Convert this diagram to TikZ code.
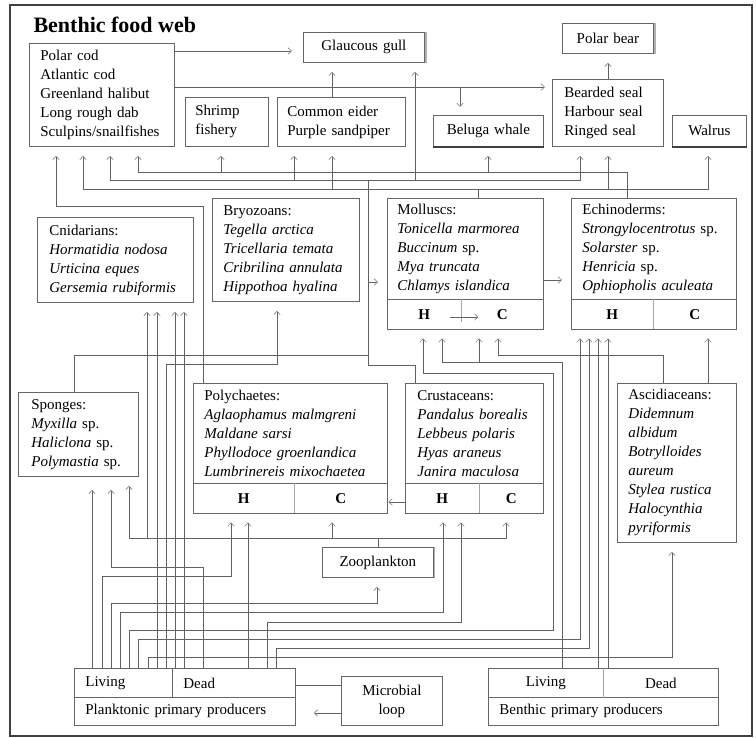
\documentclass[tikz,border=0pt]{standalone}
\usepackage{fontspec}
\setmainfont{Liberation Serif}
\usetikzlibrary{arrows.meta}
\begin{document}
\begin{tikzpicture}[x=1pt,y=-1pt,
  txt/.style={font=\fontsize{15pt}{19pt}\selectfont},
  box/.style={draw=black!60, line width=0.8pt, anchor=north west, inner ysep=0pt, align=left, txt},
  cbox/.style={box, align=center, inner xsep=3pt},
  hc/.style={anchor=north west, inner ysep=0pt, inner xsep=3pt, align=center, font=\fontsize{15pt}{19pt}\selectfont\bfseries},
  edge/.style={draw=black!60, line width=0.8pt},
  divl/.style={draw=black!35, line width=0.8pt},
  ln/.style={draw=black!62, line width=0.6pt},
  arr/.style={ln, -{Straight Barb[length=3.5pt,width=6.5pt,color=black!50]}, shorten >=9pt}
]
\useasboundingbox (0,0) rectangle (756,738);
\draw[black!75, line width=1.2pt] (10,5) rectangle (752,736);

\node[anchor=base west, font=\fontsize{22pt}{26pt}\selectfont\bfseries] (title) at (30,33) {Benthic food web};

% ---------- top row
\node[box, inner xsep=11pt, text width=123pt, minimum height=103pt] (fish) at (29,43)
  {Polar cod\\Atlantic cod\\Greenland halibut\\Long rough dab\\Sculpins/snailfishes};
\node[cbox, text width=115pt, minimum height=30pt] (gull) at (303,32) {Glaucous gull};
\node[box, inner xsep=10pt, text width=63pt, minimum height=49pt] (shrimp) at (185,97) {Shrimp\\fishery};
\node[box, inner xsep=10pt, text width=108pt, minimum height=49pt] (eider) at (277,97) {Common eider\\Purple sandpiper};
\node[cbox, text width=85pt, minimum height=30pt] (bear) at (562,23) {Polar bear};
\node[box, inner xsep=12pt, text width=87pt, minimum height=67pt] (seal) at (552,79) {Bearded seal\\Harbour seal\\Ringed seal};
\node[cbox, text width=104pt, minimum height=31pt] (beluga) at (433,115) {Beluga whale};
\node[cbox, text width=68pt, minimum height=31pt] (walrus) at (672,115) {Walrus};
\draw[black!75, line width=1.6pt] (beluga.south west) -- (beluga.south east);
\draw[black!75, line width=1.6pt] (walrus.south west) -- (walrus.south east);
\draw[black!30, line width=1.4pt] ([xshift=1pt]gull.north east) -- ([xshift=1pt]gull.south east);
\draw[black!30, line width=1.4pt] ([xshift=1pt]bear.north east) -- ([xshift=1pt]bear.south east);

% ---------- middle row
\node[box, inner xsep=12pt, text width=132pt, minimum height=85pt] (cnid) at (37,217)
  {Cnidarians:\\\textit{Hormatidia nodosa}\\\textit{Urticina eques}\\\textit{Gersemia rubiformis}};
\node[box, inner xsep=11pt, text width=125pt, minimum height=103pt] (bryo) at (212,198)
  {Bryozoans:\\\textit{Tegella arctica}\\\textit{Tricellaria temata}\\\textit{Cribrilina annulata}\\\textit{Hippothoa hyalina}};
\node[box, inner xsep=10pt, text width=136pt, minimum height=101pt] (moll) at (387,198)
  {Molluscs:\\\textit{Tonicella marmorea}\\\textit{Buccinum} sp.\\\textit{Mya truncata}\\\textit{Chlamys islandica}};
\node[hc, text width=68pt, minimum height=30pt] (mollH) at (387,299) {H};
\node[hc, text width=76pt, minimum height=30pt] (mollC) at (461,299) {C};
\draw[edge] (mollH.north west) -- (mollH.south west) -- (mollC.south east) -- (mollC.north east);
\draw[divl] (mollH.north east) -- ([yshift=-8pt]mollH.east);
\node[box, inner xsep=11pt, text width=143pt, minimum height=101pt] (echi) at (571,198)
  {Echinoderms:\\\textit{Strongylocentrotus} sp.\\\textit{Solarster} sp.\\\textit{Henricia} sp.\\\textit{Ophiopholis aculeata}};
\node[hc, text width=76pt, minimum height=30pt] (echiH) at (571,299) {H};
\node[hc, text width=77pt, minimum height=30pt] (echiC) at (653,299) {C};
\draw[edge] (echiH.north west) -- (echiH.south west) -- (echiC.south east) -- (echiC.north east);
\draw[divl] (echiH.north east) -- (echiH.south east);

% ---------- lower row
\node[box, inner xsep=13pt, text width=94pt, minimum height=84pt] (spong) at (18,392)
  {Sponges:\\\textit{Myxilla} sp.\\\textit{Haliclona} sp.\\\textit{Polymastia} sp.};
\node[box, inner xsep=11pt, text width=172pt, minimum height=100pt] (poly) at (193,383)
  {Polychaetes:\\\textit{Aglaophamus malmgreni}\\\textit{Maldane sarsi}\\\textit{Phyllodoce groenlandica}\\\textit{Lumbrinereis mixochaetea}};
\node[hc, text width=95pt, minimum height=30pt] (polyH) at (193,483) {H};
\node[hc, text width=87pt, minimum height=30pt] (polyC) at (294,483) {C};
\draw[edge] (polyH.north west) -- (polyH.south west) -- (polyC.south east) -- (polyC.north east);
\draw[divl] (polyH.north east) -- (polyH.south east);
\node[box, inner xsep=12pt, text width=114pt, minimum height=100pt] (cru) at (405,383)
  {Crustaceans:\\\textit{Pandalus borealis}\\\textit{Lebbeus polaris}\\\textit{Hyas araneus}\\\textit{Janira maculosa}};
\node[hc, text width=68pt, minimum height=30pt] (cruH) at (405,483) {H};
\node[hc, text width=58pt, minimum height=30pt] (cruC) at (479,483) {C};
\draw[edge] (cruH.north west) -- (cruH.south west) -- (cruC.south east) -- (cruC.north east);
\draw[divl] (cruH.north east) -- (cruH.south east);
\node[box, inner xsep=11pt, text width=97pt, minimum height=159pt] (asc) at (617,383)
  {Ascidiaceans:\\\textit{Didemnum}\\\textit{albidum}\\\textit{Botrylloides}\\\textit{aureum}\\\textit{Stylea rustica}\\\textit{Halocynthia}\\\textit{pyriformis}};

% ---------- bottom
\node[cbox, text width=105pt, minimum height=30pt] (zoo) at (322,547) {Zooplankton};
\draw[black!30, line width=1.2pt] ([xshift=1pt]zoo.north east) -- ([xshift=1pt]zoo.south east);
\node[box, inner xsep=11pt, text width=76pt, minimum height=29pt] (pliv) at (74,668) {Living};
\node[box, inner xsep=11pt, text width=101pt, minimum height=29pt] (pdead) at (172,668) {Dead};
\node[box, inner xsep=11pt, text width=199pt, minimum height=28pt] (pprod) at (74,697) {Planktonic primary producers};
\node[cbox, text width=95pt, minimum height=49pt] (micro) at (341,676) {Microbial\\loop};
\node[cbox, text width=109pt, minimum height=29pt] (bliv) at (488,668) {Living};
\node[cbox, text width=109pt, minimum height=29pt] (bdead) at (603,668) {Dead};
\node[box, inner xsep=11pt, text width=208pt, minimum height=28pt] (bprod) at (488,697) {Benthic primary producers};
\draw[divl] (bliv.north east) -- (bliv.south east);

% ---------- connectors: top
\draw[arr, shorten >=11pt] (fish.east |- 0,51) -- (gull.west |- 0,51);
\draw[arr, shorten >=7pt] (fish.east |- 0,87) -- (seal.west |- 0,87);
\coordinate (fb) at (460,87);
\draw[arr, shorten >=8pt] (fb) -- (beluga.north -| fb);
\draw[arr, shorten >=9pt] (eider.north -| 332,0) -- (gull.south -| 332,0);
\draw[arr] (seal.north -| 608,0) -- (bear.south -| 608,0);

\draw[arr] (poly.north -| 203,0) |- (56,206) -- (fish.south -| 56,0);

% molluscs bus
\draw[arr] (moll.north -| 478,0) |- (83,189) -- (fish.south -| 83,0);
\draw[arr] (332,189) -- (eider.south -| 332,0);
\draw[arr] (478,189) -- (608,189) -- (seal.south -| 608,0);
\draw[arr] (608,189) -| (walrus.south -| 708,0);

% crustaceans / sponges bus
\draw[arr] (cru.north -| 415,0) |- (368,365) |- (110,180) -- (fish.south -| 110,0);
\draw[ln] (spong.north -| 74,0) |- (368,355);
\draw[arr] (294,180) -- (eider.south -| 294,0);
\draw[arr] (368,180) -| (gull.south -| 415,0);
\draw[arr] (415,180) -| (seal.south -| 580,0);
\draw[arr] (368,282) -- (moll.west |- 0,282);

% echinoderms bus
\draw[arr] (echi.north -| 627,0) |- (138,172) -- (fish.south -| 138,0);
\draw[arr] (221,172) -- (shrimp.south -| 221,0);
\draw[arr] (488,172) -- (beluga.south -| 488,0);

% ---------- connectors: bottom
\draw[arr] (pliv.north -| 166,0) |- (277,364) -- (bryo.south -| 277,0);
\draw[arr] (pliv.north -| 157,0) -- (cnid.south -| 157,0);
\draw[arr] (pdead.north -| 175,0) -- (cnid.south -| 175,0);
\draw[arr] (pdead.north -| 184,0) -- (cnid.south -| 184,0);

\draw[arr] (zoo.north) |- (129,538) -- (spong.south -| 129,0);
\draw[arr] (147,538) -- (cnid.south -| 147,0);
\draw[arr] (332,538) -- (polyC.south -| 332,0);
\draw[arr] (zoo.north |- 0,538) -| (cruC.south -| 506,0);

\draw[arr, shorten >=13pt] (pliv.north -| 92,0) -- (spong.south -| 92,0);
\draw[arr, shorten >=13pt] (pdead.north -| 203,0) |- (111,567) -- (spong.south -| 111,0);
\draw[arr] (pliv.north -| 111,0) |- (377,603) -- (zoo.south -| 377,0);
\draw[arr] (pliv.north -| 102,0) |- (231,576) -- (polyH.south -| 231,0);
\draw[arr] (pdead.north -| 248,0) -- (polyH.south -| 248,0);
\draw[arr] (pliv.north -| 120,0) |- (443,612) -- (cruH.south -| 443,0);
\draw[arr] (pdead.north -| 267,0) |- (461,622) -- (cruH.south -| 461,0);
\draw[arr] (pliv.north -| 129,0) |- (553,630) |- (423,373) -- (mollH.south -| 423,0);
\draw[arr] (bliv.north -| 562,0) |- (442,362) -- (mollH.south -| 442,0);
\draw[arr] (479,362) -- (mollC.south -| 479,0);
\draw[arr] (asc.north -| 663,0) |- (498,355) -- (mollC.south -| 498,0);
\draw[arr] (pliv.north -| 138,0) |- (580,639) -- (echiH.south -| 580,0);
\draw[arr] (pdead.north -| 276,0) |- (589,648) -- (echiH.south -| 589,0);
\draw[arr] (bliv.north -| 598,0) -- (echiH.south -| 598,0);
\draw[arr] (bdead.north -| 608,0) -- (echiH.south -| 608,0);
\draw[arr] (asc.north -| 708,0) -- (echiC.south -| 708,0);
\draw[arr] (pliv.north -| 148,0) |- (672,657) -- (asc.south -| 672,0);

\draw[arr, shorten >=1pt] (cruH.west |- 0,502) -- (polyC.east |- 0,502);
\draw[arr] (moll.east |- 0,280) -- (echi.west |- 0,280);
\draw[arr, shorten >=0pt] (mollH.east |- 0,317) ++(-11,0) -- ++(28,0);
\draw[ln] (pdead.east |- 0,685) -- (micro.west |- 0,685);
\draw[arr, shorten >=18pt] (micro.west |- 0,713) -- (pprod.east |- 0,713);
\end{tikzpicture}
\end{document}
